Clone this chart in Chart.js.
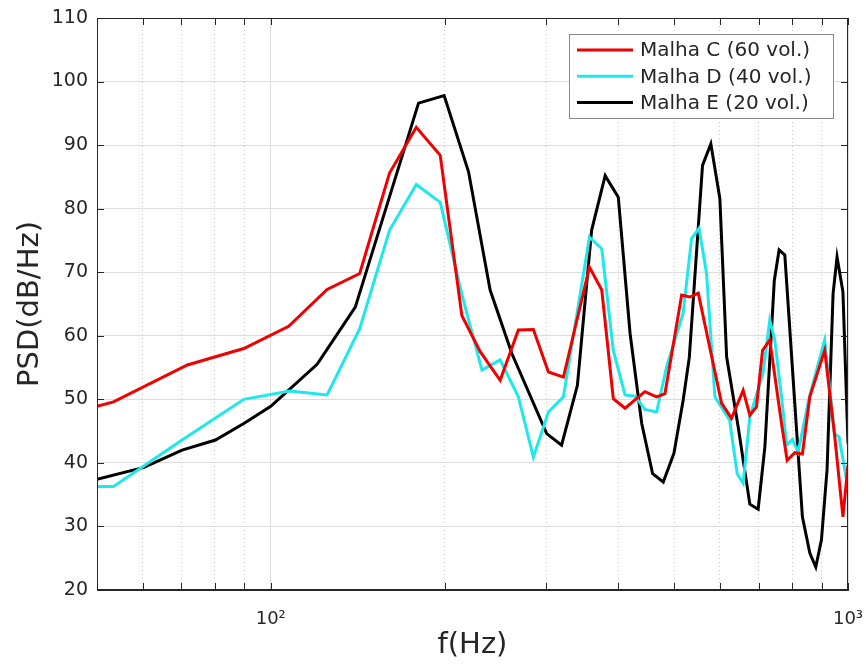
<!DOCTYPE html>
<html><head><meta charset="utf-8">
<script src="https://cdn.jsdelivr.net/npm/chart.js@4"></script>
<style>html,body{margin:0;padding:0;background:#fff;}#wrap{width:866px;height:664px;}</style>
</head><body><div id="wrap"><canvas id="c" width="866" height="664"></canvas></div>
<script>
// ---- data ----
const seriesLabels = ['Malha C (60 vol.)', 'Malha D (40 vol.)', 'Malha E (20 vol.)'];

const freqC = [50, 53.4, 71.7, 80.2, 89.8, 107.4, 125.2, 142.6, 160.6, 178.7, 196.6, 214.3, 230.6, 249.7, 268.5, 285.1, 302.7, 321.4, 356.5, 374.5, 392.1, 410.9, 444.8, 466.1, 481.9, 515, 532, 550.3, 603.9, 628.3, 658.2, 676, 694.2, 711.2, 732, 767.1, 784.4, 808.8, 833.7, 858.7, 911.3, 947.8, 980, 1000];
const psdC  = [48.9, 49.6, 55.4, 56.7, 58.0, 61.5, 67.3, 69.8, 85.6, 92.8, 88.4, 63.2, 57.5, 53.0, 60.9, 61.0, 54.3, 53.5, 70.8, 67.2, 50.1, 48.6, 51.2, 50.4, 50.9, 66.4, 66.1, 66.7, 49.4, 47.0, 51.4, 47.5, 48.8, 57.7, 59.3, 46.2, 40.4, 41.6, 41.4, 50.4, 57.7, 44.4, 31.5, 39.7];

const freqD = [50, 53.4, 70.2, 89.8, 107.9, 125.2, 142.6, 160.6, 178.7, 196.6, 214.3, 232.2, 249.7, 268.5, 285.1, 302.7, 321.4, 356.5, 374.5, 392.1, 410.9, 427.6, 444.8, 466, 485, 518, 535.8, 552, 568.8, 588, 623.7, 642.7, 658.2, 676, 712.6, 732, 746.8, 767.1, 783, 801.3, 819.5, 856, 884, 911, 947.8, 965, 1000];
const psdD  = [36.3, 36.3, 43.6, 50.0, 51.3, 50.7, 61.1, 76.6, 83.8, 81.0, 66.5, 54.6, 56.2, 50.4, 40.9, 48.0, 50.4, 75.5, 73.7, 57.7, 50.7, 50.5, 48.4, 48.0, 55.1, 63.5, 75.3, 76.9, 69.8, 50.4, 46.7, 38.3, 36.8, 47.2, 54.1, 62.5, 59.3, 50.4, 42.8, 43.7, 41.7, 50.1, 54.9, 59.3, 44.6, 44.1, 36.0];

const freqE = [50, 60.3, 70.2, 80.2, 89.8, 100, 120.3, 140.1, 180.3, 199.7, 220.1, 239.9, 261.6, 300.6, 319, 339.8, 359.6, 379.6, 400, 419.2, 439.2, 458.7, 478.6, 499.4, 518.2, 531, 559.7, 578.6, 599.8, 616.2, 645.2, 676, 698.8, 717.8, 745.3, 759.7, 777.2, 833.7, 858.7, 879.4, 899.5, 919.8, 942.2, 957.3, 980, 1000];
const psdE  = [37.4, 39.3, 42.0, 43.6, 46.2, 48.9, 55.5, 64.5, 96.6, 97.8, 85.8, 67.2, 57.2, 44.6, 42.8, 52.2, 76.6, 85.2, 81.8, 60.4, 46.2, 38.3, 37.0, 41.5, 49.9, 56.6, 86.8, 90.2, 81.6, 56.7, 45.7, 33.5, 32.7, 42.5, 68.7, 73.5, 72.7, 31.5, 25.8, 23.6, 27.9, 38.9, 66.6, 72.4, 66.9, 43.0];

const xMajorTicks = [100, 1000];
const xTickLabels = ['10\u00B2', '10\u00B3'];
const xMinorTicks = [60, 70, 80, 90, 200, 300, 400, 500, 600, 700, 800, 900];
const yTicks = [20, 30, 40, 50, 60, 70, 80, 90, 100, 110];

const colors = ['#f00000', '#1ee8ea', '#000000'];
const FONT = 'DejaVu Sans';
const INK = '#262626';

const toPts = (fx, fy) => fx.map((f, i) => ({ x: f, y: fy[i] }));
const noPad = s => { s.paddingLeft = 0; s.paddingRight = 0; s.paddingTop = 0; s.paddingBottom = 0; };

const frame = {
  id: 'frame',
  afterDraw(chart) {
    const { ctx, chartArea: a, scales } = chart;
    ctx.save();
    ctx.strokeStyle = INK; ctx.lineWidth = 1;
    const L = 7;
    ctx.beginPath();
    xMajorTicks.concat(xMinorTicks).forEach(v => {
      const px = Math.round(scales.x.getPixelForValue(v)) + 0.5;
      ctx.moveTo(px, a.bottom); ctx.lineTo(px, a.bottom - L);
      ctx.moveTo(px, a.top); ctx.lineTo(px, a.top + L);
    });
    yTicks.forEach(v => {
      const py = Math.round(scales.y.getPixelForValue(v)) + 0.5;
      ctx.moveTo(a.left, py); ctx.lineTo(a.left + L, py);
      ctx.moveTo(a.right, py); ctx.lineTo(a.right - L, py);
    });
    ctx.stroke();
    ctx.strokeRect(Math.round(a.left) + 0.5, Math.round(a.top) + 0.5, Math.round(a.right - a.left) - 1, Math.round(a.bottom - a.top) - 1);

    // legend (inside plot, top-right)
    const bx = 569.5, by = 34.5, bw = 264, bh = 84;
    ctx.fillStyle = '#ffffff';
    ctx.fillRect(bx, by, bw, bh);
    ctx.strokeStyle = '#8a8a8a';
    ctx.strokeRect(bx, by, bw, bh);
    ctx.font = '20px "' + FONT + '"';
    ctx.textBaseline = 'middle';
    ctx.textAlign = 'left';
    chart.data.datasets.forEach((ds, i) => {
      const yy = 50 + i * 26.3;
      ctx.strokeStyle = ds.borderColor; ctx.lineWidth = 3;
      ctx.beginPath(); ctx.moveTo(577, yy); ctx.lineTo(633, yy); ctx.stroke();
      ctx.fillStyle = INK;
      ctx.fillText(ds.label, 640, yy + 1);
    });
    ctx.restore();
  }
};

new Chart(document.getElementById('c'), {
  type: 'line',
  data: {
    datasets: [
      { label: seriesLabels[0], data: toPts(freqC, psdC), borderColor: colors[0] },
      { label: seriesLabels[1], data: toPts(freqD, psdD), borderColor: colors[1] },
      { label: seriesLabels[2], data: toPts(freqE, psdE), borderColor: colors[2] }
    ]
  },
  options: {
    responsive: false,
    animation: false,
    devicePixelRatio: 1,
    layout: { padding: { top: 18, right: 18, left: 0, bottom: 0 } },
    elements: { line: { borderWidth: 3, tension: 0, fill: false }, point: { radius: 0 } },
    plugins: { legend: { display: false }, tooltip: { enabled: false } },
    scales: {
      x: {
        type: 'logarithmic', position: 'bottom', min: 50, max: 1000,
        afterBuildTicks: s => { s.ticks = xMajorTicks.map(v => ({ value: v })); },
        afterFit: s => { s.height = 74; noPad(s); },
        ticks: {
          autoSkip: false, maxRotation: 0, padding: 19, color: INK,
          font: { family: FONT, size: 18 },
          callback: v => xTickLabels[xMajorTicks.indexOf(v)]
        },
        grid: { color: '#dcdcdc', lineWidth: 1, drawTicks: false },
        border: { display: true, color: INK },
        title: { display: true, text: 'f(Hz)', color: INK, font: { family: FONT, size: 29 }, padding: { top: 1, bottom: 1 } }
      },
      xm: {
        type: 'logarithmic', position: 'bottom', min: 50, max: 1000,
        afterBuildTicks: s => { s.ticks = xMinorTicks.map(v => ({ value: v })); },
        afterFit: s => { s.height = 0; noPad(s); },
        ticks: { display: false },
        grid: { color: '#c8c8c8', lineWidth: 1, drawTicks: false },
        border: { display: false, dash: [1, 3] }
      },
      y: {
        type: 'linear', min: 20, max: 110,
        afterBuildTicks: s => { s.ticks = yTicks.map(v => ({ value: v })); },
        afterFit: s => { s.width = 97; noPad(s); },
        ticks: { padding: 9, color: INK, font: { family: FONT, size: 19 } },
        grid: { color: '#dcdcdc', lineWidth: 1, drawTicks: false },
        border: { display: true, color: INK },
        title: { display: true, text: 'PSD(dB/Hz)', color: INK, font: { family: FONT, size: 29 }, padding: { top: 13, bottom: 0 } }
      }
    }
  },
  plugins: [frame]
});
</script>
</body></html>
